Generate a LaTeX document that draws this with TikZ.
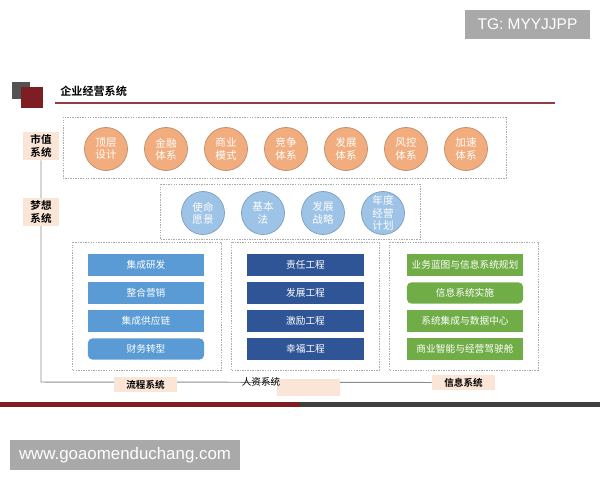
\documentclass[tikz,border=0pt]{standalone}
\usepackage{fontspec}
\setmainfont{Noto Sans CJK SC}[BoldFont={Noto Sans CJK SC Bold}]
\newfontfamily\latinfont{Liberation Sans}
\definecolor{ballorange}{HTML}{F2AD7E}
\definecolor{ballorangeline}{HTML}{C28A66}
\definecolor{ballblue}{HTML}{9DC3E6}
\definecolor{ballblueline}{HTML}{7E9DBE}
\definecolor{barblue}{HTML}{5B9BD5}
\definecolor{bardark}{HTML}{2F5597}
\definecolor{bargreen}{HTML}{70AD47}
\definecolor{peach}{HTML}{FBE5D6}
\definecolor{dotgray}{HTML}{ABABAB}
\definecolor{maroon}{HTML}{7E1D22}
\definecolor{darkbar}{HTML}{404040}
\definecolor{markgray}{HTML}{A9A9A9}
\tikzset{
  dotbox/.style={draw=dotgray, line width=0.5pt, dash pattern=on 1pt off 0.8pt},
  orangeball/.style={circle, fill=ballorange, draw=ballorangeline, line width=0.5pt,
    minimum size=1.075cm, inner sep=0pt, text=white, align=center,
    font=\fontsize{7.5}{8.6}\selectfont},
  blueball/.style={orangeball, fill=ballblue, draw=ballblueline},
  bar/.style={minimum width=2.9cm, minimum height=0.525cm, inner sep=0pt,
    text=white, font=\fontsize{6.9}{8}\selectfont},
  sysbox/.style={fill=peach, minimum width=0.9cm, minimum height=0.7cm, inner sep=0pt,
    align=center, font=\fontsize{7.5}{9}\selectfont\bfseries},
  footbox/.style={fill=peach, minimum width=1.575cm, minimum height=0.375cm, inner sep=0pt,
    font=\fontsize{6.8}{8}\selectfont\bfseries},
  watermark/.style={fill=markgray, text=white, inner sep=0pt, font=\latinfont}
}
\begin{document}
\begin{tikzpicture}[x=0.025cm, y=-0.025cm]
\useasboundingbox (0,0) rectangle (600,480);
%header
\fill[darkbar!90] (12,82) rectangle (30,99);
\fill[maroon] (21,87) rectangle (43,108);
\node[anchor=west, inner sep=0pt, font=\fontsize{7.9}{9}\selectfont\bfseries] (title) at (60,91) {企业经营系统};
\draw[maroon!85, line width=1pt] (55,103) -- (555,103);
%dotted frames
\draw[dotbox] (63,117) rectangle (506,178);
\draw[dotbox] (160,184) rectangle (420,239);
\draw[dotbox] (72,242) rectangle (221,370);
\draw[dotbox] (231,242) rectangle (379,370);
\draw[dotbox] (389,242) rectangle (538,370);
%left spine
\node[sysbox] (shizhi) at (41,146) {市值\\系统};
\coordinate (corner) at (41,382);
\node[footbox, minimum width=1.575cm] (xinxi) at (463.5,382.5) {信息系统};
\draw[black!45, line width=0.7pt] (shizhi.south) -- (corner) -- (xinxi.west);
\node[sysbox] (mengxiang) at (41,212) {梦想\\系统};
%top row
\foreach \t [count=\i] in {顶层\\设计, 金融\\体系, 商业\\模式, 竞争\\体系, 发展\\体系, 风控\\体系, 加速\\体系}
  \node[orangeball] (top\i) at (106+60*\i-60,149) {\t};
%middle row
\foreach \t [count=\i] in {使命\\愿景, 基本\\法, 发展\\战略, 年度\\经营\\计划}
  \node[blueball] (mid\i) at (203+60*\i-60,213) {\t};
%process
\foreach \t [count=\i] in {集成研发, 整合营销, 集成供应链}
  \node[bar, fill=barblue] (liu\i) at (146,237+28*\i) {\t};
\node[bar, fill=barblue, rounded corners=3pt] (liu4) at (146,349) {财务转型};
%hr
\foreach \t [count=\i] in {责任工程, 发展工程, 激励工程, 幸福工程}
  \node[bar, fill=bardark] (ren\i) at (305.5,237+28*\i) {\t};
%it
\node[bar, fill=bargreen] (it1) at (465,265) {业务蓝图与信息系统规划};
\node[bar, fill=bargreen, rounded corners=3pt] (it2) at (465,293) {信息系统实施};
\node[bar, fill=bargreen] (it3) at (465,321) {系统集成与数据中心};
\node[bar, fill=bargreen] (it4) at (465,349) {商业智能与经营驾驶舱};
%footer labels
\node[footbox] (liucheng) at (145.5,384.5) {流程系统};
\fill[peach] (277,379) rectangle (340,396);
\node[inner sep=0pt, font=\fontsize{6.8}{8}\selectfont] (renzi) at (261,382) {人资系统};
%bottom bar
\fill[maroon] (0,402) rectangle (300,407);
\fill[darkbar] (300,402) rectangle (600,407);
%watermarks
\node[watermark, minimum width=3.125cm, minimum height=0.725cm, font=\latinfont\fontsize{11}{13}\selectfont] (tg) at (527.5,24.5) {TG: MYYJJPP};
\node[watermark, minimum width=5.75cm, minimum height=0.75cm, font=\latinfont\fontsize{12}{14}\selectfont] (www) at (125,455) {www.goaomenduchang.com};
\end{tikzpicture}
\end{document}
